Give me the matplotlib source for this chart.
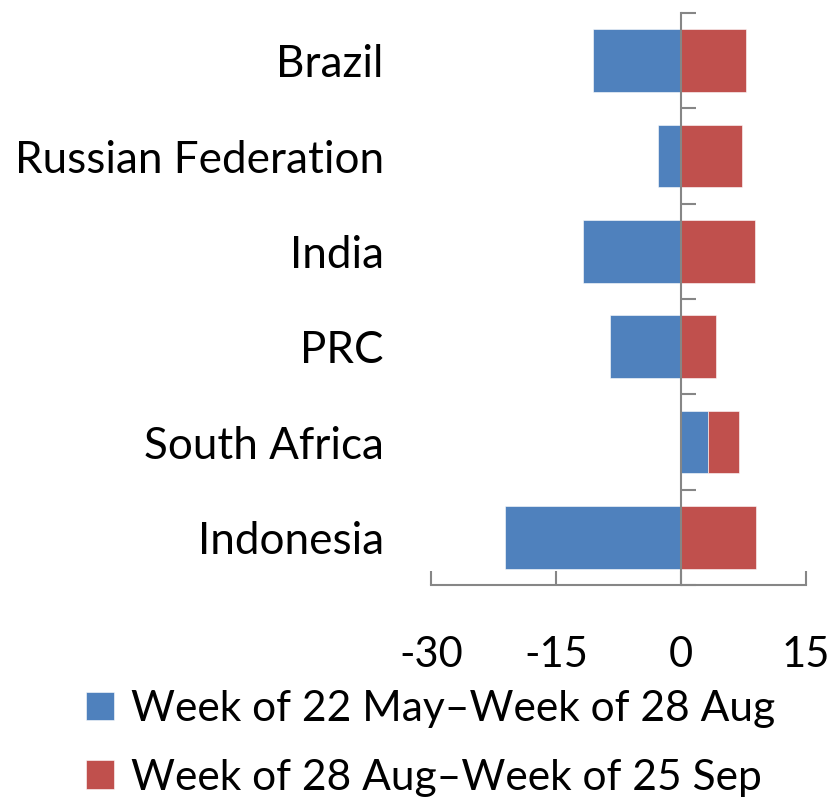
import matplotlib
matplotlib.use("Agg")
import matplotlib.pyplot as plt
import numpy as np

categories = ["Brazil", "Russian Federation", "India", "PRC", "South Africa", "Indonesia"]
series1_name = "Week of 22 May\u2013Week of 28 Aug"
series2_name = "Week of 28 Aug\u2013Week of 25 Sep"
series1 = [-10.6, -2.8, -11.8, -8.5, 3.2, -21.1]
series2 = [7.8, 7.3, 8.9, 4.2, 3.7, 9.0]
xticks = [-30, -15, 0, 15]

plt.rcParams['font.family'] = ['Lato', 'DejaVu Sans']
FS_Y = 31.7
FS_X = 30
FS_L = 30.6
gray = "#868686"
blue = "#4F81BD"
red = "#C0504D"

fig = plt.figure(figsize=(8.32, 8.05), dpi=100)
ax = fig.add_axes([431/832, 1 - 585/805, (806 - 431)/832, (585 - 13)/805])

n = len(categories)
y = np.arange(n)
s1 = np.array(series1)
s2 = np.array(series2)
left2 = np.where(s1 > 0, s1, 0)
ax.barh(y, s1, height=0.66, color=blue, edgecolor="white", linewidth=0.4, label=series1_name)
ax.barh(y, s2, left=left2, height=0.66, color=red, edgecolor="white", linewidth=0.4, label=series2_name)

ax.set_xlim(xticks[0], xticks[-1])
ax.set_ylim(n - 0.5, -0.5)
ax.set_xticks(xticks)
ax.set_xticklabels([str(t) for t in xticks], fontsize=FS_X)
ax.tick_params(axis='x', direction='in', length=10, width=1.5, color=gray, pad=37)
ax.set_yticks(y)
ax.set_yticklabels(categories, fontsize=FS_Y)
ax.tick_params(axis='y', length=0, pad=34)

for s in ["top", "right", "left"]:
    ax.spines[s].set_visible(False)
ax.spines["bottom"].set_color(gray)
ax.spines["bottom"].set_linewidth(1.5)

xmin, xmax = ax.get_xlim()
loc0 = (0 - xmin) / (xmax - xmin)
sec = ax.secondary_yaxis(loc0)
sec.set_yticks(np.arange(n + 1) - 0.5)
sec.set_yticklabels([])
sec.tick_params(axis='y', direction='out', length=11, width=1.5, color=gray, left=False, right=True)
for sp in sec.spines.values():
    sp.set_color(gray)
    sp.set_linewidth(1.5)
sec.set_zorder(5)

handles, labels = ax.get_legend_handles_labels()
fig.legend(handles, labels, loc="upper left", bbox_to_anchor=(86/832, 1 - 690/805),
           frameon=False, fontsize=FS_L, handlelength=0.65, handleheight=0.65,
           handletextpad=0.4, labelspacing=0.72, borderaxespad=0, borderpad=0)

fig.savefig("out.png", dpi=100)
